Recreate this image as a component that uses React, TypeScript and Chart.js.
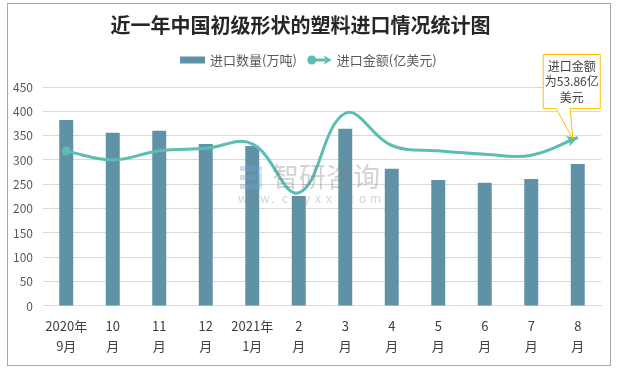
import React, { useEffect, useRef } from 'react';
import { Chart, registerables } from 'chart.js';

Chart.register(...registerables);

const FONT = '"Noto Sans CJK SC", "DejaVu Sans", sans-serif';

const titleText = '近一年中国初级形状的塑料进口情况统计图';
const categories: string[][] = [
  ['2020年', '9月'], ['10', '月'], ['11', '月'], ['12', '月'], ['2021年', '1月'], ['2', '月'],
  ['3', '月'], ['4', '月'], ['5', '月'], ['6', '月'], ['7', '月'], ['8', '月'],
];
const seriesNames = ['进口数量(万吨)', '进口金额(亿美元)'];
const importVolume = [382, 356, 360, 333, 329, 226, 364, 282, 259, 253, 261, 292];
const importValue = [49.5, 46.7, 49.6, 50.4, 51.8, 36.2, 61.6, 51.3, 49.6, 48.5, 48.2, 53.86];
const yMin = 0;
const yMax = 450;
const yStep = 50;
const y2Max = 70;
const calloutLines = ['进口金额', '为53.86亿', '美元'];
const watermarkText = '智研咨询';
const watermarkUrl = 'www.chyxx.com';

const BAR_COLOR = '#5d8fa6';
const LINE_COLOR = '#5cbdb3';

function makePattern(): CanvasPattern | string {
  const c = document.createElement('canvas');
  c.width = 2;
  c.height = 2;
  const g = c.getContext('2d');
  if (!g) return BAR_COLOR;
  g.fillStyle = '#5a8ba2';
  g.fillRect(0, 0, 2, 2);
  g.fillStyle = '#6598ad';
  g.fillRect(0, 0, 1, 1);
  g.fillRect(1, 1, 1, 1);
  const p = g.createPattern(c, 'repeat');
  return p || BAR_COLOR;
}

function drawArrowHead(ctx: CanvasRenderingContext2D, x: number, y: number, ang: number, len: number, half: number) {
  ctx.save();
  ctx.translate(x, y);
  ctx.rotate(ang);
  ctx.beginPath();
  ctx.moveTo(0, 0);
  ctx.lineTo(-len, -half);
  ctx.lineTo(-len * 0.75, 0);
  ctx.lineTo(-len, half);
  ctx.closePath();
  ctx.fill();
  ctx.restore();
}

export default function App() {
  const ref = useRef<HTMLCanvasElement | null>(null);

  useEffect(() => {
    if (!ref.current) return;
    const pattern = makePattern();

    const frame = {
      id: 'frame',
      afterDraw(chart: any) {
        const ctx = chart.ctx as CanvasRenderingContext2D;
        ctx.save();
        ctx.strokeStyle = '#a6a6a6';
        ctx.lineWidth = 1;
        ctx.strokeRect(7.5, 3.5, 603, 362);
        ctx.restore();
      },
    };

    const legend = {
      id: 'customLegend',
      afterDraw(chart: any) {
        const ctx = chart.ctx as CanvasRenderingContext2D;
        const names = chart.data.datasets.map((d: any) => d.label);
        ctx.save();
        ctx.font = `13px ${FONT}`;
        const w1 = ctx.measureText(names[0]).width;
        const w2 = ctx.measureText(names[1]).width;
        const total = 25 + 5 + w1 + 11 + 24 + 5 + w2;
        let x = Math.round(chart.width / 2 - total / 2 - 1);
        const y = 60;
        ctx.fillStyle = pattern as any;
        ctx.fillRect(x, y - 3.5, 25, 7);
        x += 30;
        ctx.fillStyle = '#595959';
        ctx.textBaseline = 'middle';
        ctx.textAlign = 'left';
        ctx.fillText(names[0], x, y);
        x += w1 + 11;
        ctx.strokeStyle = LINE_COLOR;
        ctx.fillStyle = LINE_COLOR;
        ctx.lineWidth = 3;
        ctx.beginPath();
        ctx.moveTo(x + 4, y);
        ctx.lineTo(x + 18, y);
        ctx.stroke();
        ctx.beginPath();
        ctx.arc(x + 4, y, 4.5, 0, Math.PI * 2);
        ctx.fill();
        drawArrowHead(ctx, x + 24, y, 0, 8, 4.5);
        x += 29;
        ctx.fillStyle = '#595959';
        ctx.fillText(names[1], x, y);
        ctx.restore();
      },
    };

    const lineDecor = {
      id: 'lineDecor',
      afterDatasetsDraw(chart: any) {
        const ctx = chart.ctx as CanvasRenderingContext2D;
        const meta = chart.getDatasetMeta(1);
        const last = meta.data[meta.data.length - 1] as any;
        if (!last) return;
        const cpx = last.cp1x !== undefined ? last.cp1x : last.controlPointPreviousX;
        const cpy = last.cp1y !== undefined ? last.cp1y : last.controlPointPreviousY;
        const ang = Math.atan2(last.y - cpy, last.x - cpx);
        ctx.save();
        ctx.fillStyle = LINE_COLOR;
        drawArrowHead(ctx, last.x, last.y, ang, 11, 5.5);
        ctx.restore();

        // watermark
        const area = chart.chartArea;
        const cx = (area.left + area.right) / 2;
        ctx.save();
        ctx.globalAlpha = 0.35;
        ctx.fillStyle = '#7f9fcf';
        const lx = cx - 82;
        const ly = 166;
        ctx.fillRect(lx, ly, 22, 5);
        ctx.fillRect(lx, ly + 9, 16, 5);
        ctx.fillRect(lx, ly + 18, 22, 5);
        ctx.fillStyle = '#5fb0e0';
        ctx.fillRect(lx + 17, ly + 6, 5, 12);
        ctx.fillStyle = '#808080';
        ctx.font = `27px ${FONT}`;
        ctx.textBaseline = 'middle';
        ctx.textAlign = 'left';
        ctx.fillText(watermarkText, lx + 32, ly + 11);
        ctx.font = `12px ${FONT}`;
        const chars = watermarkUrl.split('');
        chars.forEach((ch, i) => {
          ctx.fillText(ch, lx - 2 + i * 11, ly + 32);
        });
        ctx.restore();
      },
      afterDraw(chart: any) {
        const ctx = chart.ctx as CanvasRenderingContext2D;
        const meta = chart.getDatasetMeta(1);
        const last = meta.data[meta.data.length - 1] as any;
        if (!last) return;
        const tx = last.x - 5;
        const ty = last.y + 1.5;
        const left = tx - 30;
        const right = tx + 27;
        const top = ty - 85;
        const bottom = ty - 31;
        ctx.save();
        ctx.beginPath();
        ctx.moveTo(left + 0.5, top + 0.5);
        ctx.lineTo(right + 0.5, top + 0.5);
        ctx.lineTo(right + 0.5, bottom + 0.5);
        ctx.lineTo(tx - 3 + 0.5, bottom + 0.5);
        ctx.lineTo(tx, ty);
        ctx.lineTo(tx - 17 + 0.5, bottom + 0.5);
        ctx.lineTo(left + 0.5, bottom + 0.5);
        ctx.closePath();
        ctx.fillStyle = '#ffffff';
        ctx.fill();
        ctx.strokeStyle = '#ffc000';
        ctx.lineWidth = 1;
        ctx.stroke();
        ctx.fillStyle = '#404040';
        ctx.font = `12px ${FONT}`;
        ctx.textAlign = 'center';
        ctx.textBaseline = 'middle';
        const mx = (left + right) / 2 + 0.5;
        calloutLines.forEach((t, i) => {
          ctx.fillText(t, mx, ty - 73 + i * 15.5);
        });
        ctx.restore();
      },
    };

    const chart = new Chart(ref.current, {
      type: 'bar',
      data: {
        labels: categories,
        datasets: [
          {
            type: 'bar',
            label: seriesNames[0],
            data: importVolume,
            backgroundColor: pattern as any,
            borderWidth: 0,
            barPercentage: 0.3,
            categoryPercentage: 1,
            yAxisID: 'y',
            order: 2,
          },
          {
            type: 'line',
            label: seriesNames[1],
            data: importValue,
            borderColor: LINE_COLOR,
            backgroundColor: LINE_COLOR,
            borderWidth: 3,
            tension: 0.4,
            pointRadius: importValue.map((_, i) => (i === 0 ? 4.5 : 0)),
            pointBorderWidth: 0,
            pointBackgroundColor: LINE_COLOR,
            fill: false,
            yAxisID: 'y1',
            order: 1,
          },
        ],
      },
      options: {
        responsive: false,
        animation: false,
        layout: { padding: { left: 0, right: 17, top: 0, bottom: 3 } },
        plugins: {
          legend: { display: false },
          tooltip: { enabled: false },
          title: {
            display: true,
            text: titleText,
            color: '#262626',
            font: { size: 20, weight: 'bold', family: FONT, lineHeight: 1.2 },
            padding: { top: 13, bottom: 50 },
          },
        },
        scales: {
          x: {
            grid: { display: false, drawTicks: false },
            border: { display: true, color: '#d9d9d9' },
            ticks: {
              color: '#404040',
              font: { size: 13, family: FONT, lineHeight: 1.54 },
              padding: 10,
              maxRotation: 0,
              autoSkip: false,
            },
          },
          y: {
            min: yMin,
            max: yMax,
            afterFit: (s: any) => {
              s.width = 43;
            },
            grid: { color: '#d9d9d9', drawTicks: false },
            border: { display: false },
            ticks: {
              stepSize: yStep,
              color: '#595959',
              font: { size: 12, family: FONT },
              padding: 10,
            },
          },
          y1: {
            display: false,
            min: 0,
            max: y2Max,
            position: 'right',
            grid: { display: false },
          },
        },
      },
      plugins: [frame, legend, lineDecor],
    } as any);

    return () => chart.destroy();
  }, []);

  return (
    <div style={{ position: 'absolute', left: 0, top: 0, width: 618, height: 369, background: '#fff' }}>
      <canvas ref={ref} width={618} height={369} />
    </div>
  );
}
